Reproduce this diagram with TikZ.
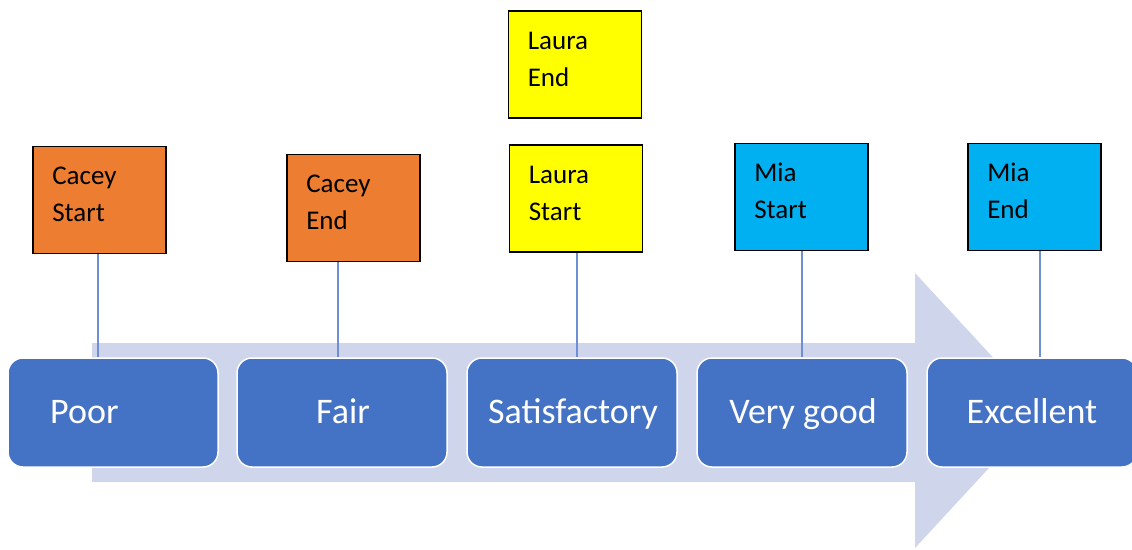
\documentclass[tikz,border=0pt]{standalone}
\usepackage{fontspec}
\setmainfont{Carlito}
\definecolor{arrowfill}{HTML}{CFD5EA}
\definecolor{stageblue}{HTML}{4472C4}
\definecolor{linkblue}{HTML}{6F8FD4}
\definecolor{cacey}{HTML}{ED7D31}
\definecolor{laura}{HTML}{FFFF00}
\definecolor{mia}{HTML}{00B0F0}
\tikzset{
  stage/.style={draw=white, line width=1.5pt, fill=stageblue, rounded corners=15pt,
    minimum width=210pt, minimum height=109pt, inner sep=0pt},
  stagetext/.style={text=white, font=\fontsize{36}{40}\selectfont, anchor=base, inner sep=0pt},
  mark box/.style={draw=black, line width=1.8pt, minimum width=133pt, minimum height=107pt, inner sep=0pt},
  marktext/.style={text=black, font=\fontsize{27}{30}\selectfont, anchor=base west, inner sep=0pt},
  link/.style={draw=linkblue, line width=1.1pt}
}
\begin{document}
\begin{tikzpicture}[x=1pt,y=-1pt]
\useasboundingbox (0,0) rectangle (1132,549);
% big arrow
\fill[arrowfill] (92,343) -- (915,343) -- (915,273) -- (1042,410.5) -- (915,548) -- (915,482) -- (92,482) -- cycle;
% stage boxes
\node[stage] (poor) at (113,412.5) {};
\node[stage] (fair) at (342,412.5) {};
\node[stage] (sat) at (572,412.5) {};
\node[stage] (vg) at (802,412.5) {};
\node[stage] (exc) at (1032,412.5) {};
\node[stagetext, anchor=base west] (tpoor) at (50,423) {Poor};
\node[stagetext] (tfair) at (343,423) {Fair};
\node[stagetext] (tsat) at (573,423) {Satisfactory};
\node[stagetext] (tvg) at (803,423) {Very good};
\node[stagetext] (texc) at (1032,423) {Excellent};
% marker boxes
\node[mark box, fill=cacey] (cs) at (99.5,200) {};
\node[mark box, fill=cacey] (ce) at (353.5,208) {};
\node[mark box, fill=laura] (le) at (575,64.5) {};
\node[mark box, fill=laura] (ls) at (576,198.5) {};
\node[mark box, fill=mia] (ms) at (801.5,197) {};
\node[mark box, fill=mia] (me) at (1034.5,197) {};
\node[marktext] at ([xshift=20pt,yshift=-39pt]cs.north west) {Cacey};
\node[marktext] at ([xshift=20pt,yshift=-76pt]cs.north west) {Start};
\node[marktext] at ([xshift=20pt,yshift=-39pt]ce.north west) {Cacey};
\node[marktext] at ([xshift=20pt,yshift=-76pt]ce.north west) {End};
\node[marktext] at ([xshift=20pt,yshift=-39pt]le.north west) {Laura};
\node[marktext] at ([xshift=20pt,yshift=-76pt]le.north west) {End};
\node[marktext] at ([xshift=20pt,yshift=-39pt]ls.north west) {Laura};
\node[marktext] at ([xshift=20pt,yshift=-76pt]ls.north west) {Start};
\node[marktext] at ([xshift=20pt,yshift=-39pt]ms.north west) {Mia};
\node[marktext] at ([xshift=20pt,yshift=-76pt]ms.north west) {Start};
\node[marktext] at ([xshift=20pt,yshift=-39pt]me.north west) {Mia};
\node[marktext] at ([xshift=20pt,yshift=-76pt]me.north west) {End};
% links
\coordinate (csb) at ([xshift=-1.5pt]cs.south);
\coordinate (ceb) at ([xshift=-15.5pt]ce.south);
\coordinate (lsb) at ([xshift=1pt]ls.south);
\coordinate (msb) at ([xshift=0.5pt]ms.south);
\coordinate (meb) at ([xshift=5.5pt]me.south);
\draw[link] (csb) -- (csb |- poor.north);
\draw[link] (ceb) -- (ceb |- fair.north);
\draw[link] (lsb) -- (lsb |- sat.north);
\draw[link] (msb) -- (msb |- vg.north);
\draw[link] (meb) -- (meb |- exc.north);
\end{tikzpicture}
\end{document}
